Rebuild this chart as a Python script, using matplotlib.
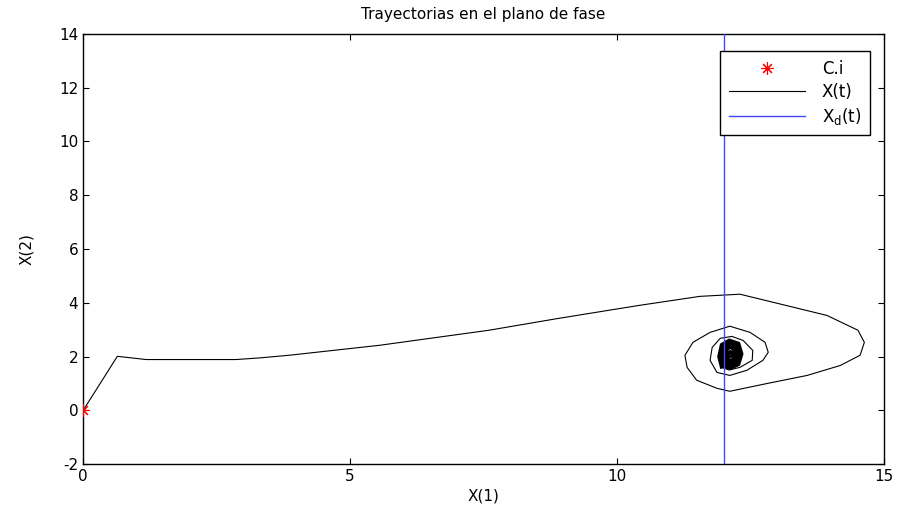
import numpy as np
import matplotlib
matplotlib.use("Agg")
import matplotlib.pyplot as plt

plt.rcParams['font.family'] = ['DejaVu Sans']
plt.rcParams['axes.unicode_minus'] = False

# trajectory X(t) in the phase plane
x1 = [0, 0.64, 1.18, 2.86, 3.3, 3.86, 5.55, 7.6, 8.9, 10.4, 11.55, 12.3,
      12.92, 13.93, 14.51, 14.63, 14.55, 14.18, 13.56, 12.81, 12.11, 11.87,
      11.49, 11.31, 11.27, 11.42, 11.74, 12.11, 12.49, 12.77, 12.83, 12.73,
      12.43, 12.11, 11.87, 11.74, 11.78, 11.93, 12.15, 12.36, 12.54, 12.53,
      12.3, 12.1, 11.95, 11.9, 11.95, 12.1, 12.28, 12.34, 12.28, 12.12,
      11.97, 11.93, 11.98, 12.12, 12.26, 12.3, 12.25, 12.12, 12.0, 11.97,
      12.01, 12.12, 12.23, 12.27, 12.22, 12.12, 12.03, 12.0, 12.04, 12.12,
      12.2, 12.23, 12.19, 12.12, 12.06, 12.04, 12.07, 12.12, 12.17, 12.19,
      12.16, 12.12, 12.08, 12.08, 12.12, 12.15, 12.12]
x2 = [0, 2.01, 1.89, 1.89, 1.95, 2.05, 2.42, 2.98, 3.42, 3.9, 4.24, 4.32,
      4.02, 3.53, 2.98, 2.53, 2.05, 1.67, 1.30, 1.00, 0.71, 0.82,
      1.12, 1.60, 2.05, 2.53, 2.90, 3.13, 2.90, 2.53, 2.16, 1.86,
      1.49, 1.30, 1.41, 1.86, 2.34, 2.68, 2.75, 2.60, 2.23, 1.86,
      1.60, 1.5, 1.6, 2.0, 2.45, 2.62, 2.5, 2.1, 1.7, 1.55,
      1.65, 2.05, 2.42, 2.55, 2.42, 2.07, 1.75, 1.62, 1.72, 2.07,
      2.38, 2.5, 2.38, 2.07, 1.8, 1.68, 1.77, 2.07, 2.33, 2.44,
      2.33, 2.07, 1.85, 1.76, 1.83, 2.07, 2.27, 2.35, 2.27, 2.07,
      1.9, 1.85, 1.92, 2.07, 2.2, 2.07, 2.0]
blob_start = 44  # from here on the spiral is packed tight

# initial condition
ci_x = [0]
ci_y = [0]

# desired trajectory Xd(t)
xd_x = [12, 12]
xd_y = [-2, 14]

fig = plt.figure(figsize=(9.04, 5.14), dpi=100)
ax = fig.add_axes([0.092, 0.097, 0.886, 0.837])

ax.plot(ci_x, ci_y, color='red', marker=(8, 2, 0), markersize=9,
        linestyle='none', markeredgewidth=0.8, label='C.i', zorder=4)
ax.plot(x1, x2, color='black', linewidth=0.8, label='X(t)')
ax.plot(x1[blob_start:], x2[blob_start:], color='black', linewidth=2.0,
        solid_joinstyle='round')
ax.plot(xd_x, xd_y, color='#4646ff', linewidth=1.0,
        label='X$_\\mathregular{d}$(t)', zorder=3)

ax.set_xlim(0, 15)
ax.set_ylim(-2, 14)
ax.set_xticks([0, 5, 10, 15])
ax.set_yticks(np.arange(-2, 15, 2))
ax.tick_params(direction='in', top=True, right=True, length=4, labelsize=11)
for s in ax.spines.values():
    s.set_linewidth(1.0)

ax.set_title('Trayectorias en el plano de fase', fontsize=11, pad=11)
ax.set_xlabel('X(1)', fontsize=11, labelpad=3)
ax.set_ylabel('X(2)', fontsize=11, labelpad=18)

leg = ax.legend(loc='upper right', bbox_to_anchor=(0.9925, 0.979),
                fontsize=12, fancybox=False, framealpha=1,
                edgecolor='black', handlelength=4.6, labelspacing=0.3,
                borderpad=0.5, handletextpad=1.0)
leg.get_frame().set_linewidth(1.0)

fig.savefig('out.png', dpi=100)
